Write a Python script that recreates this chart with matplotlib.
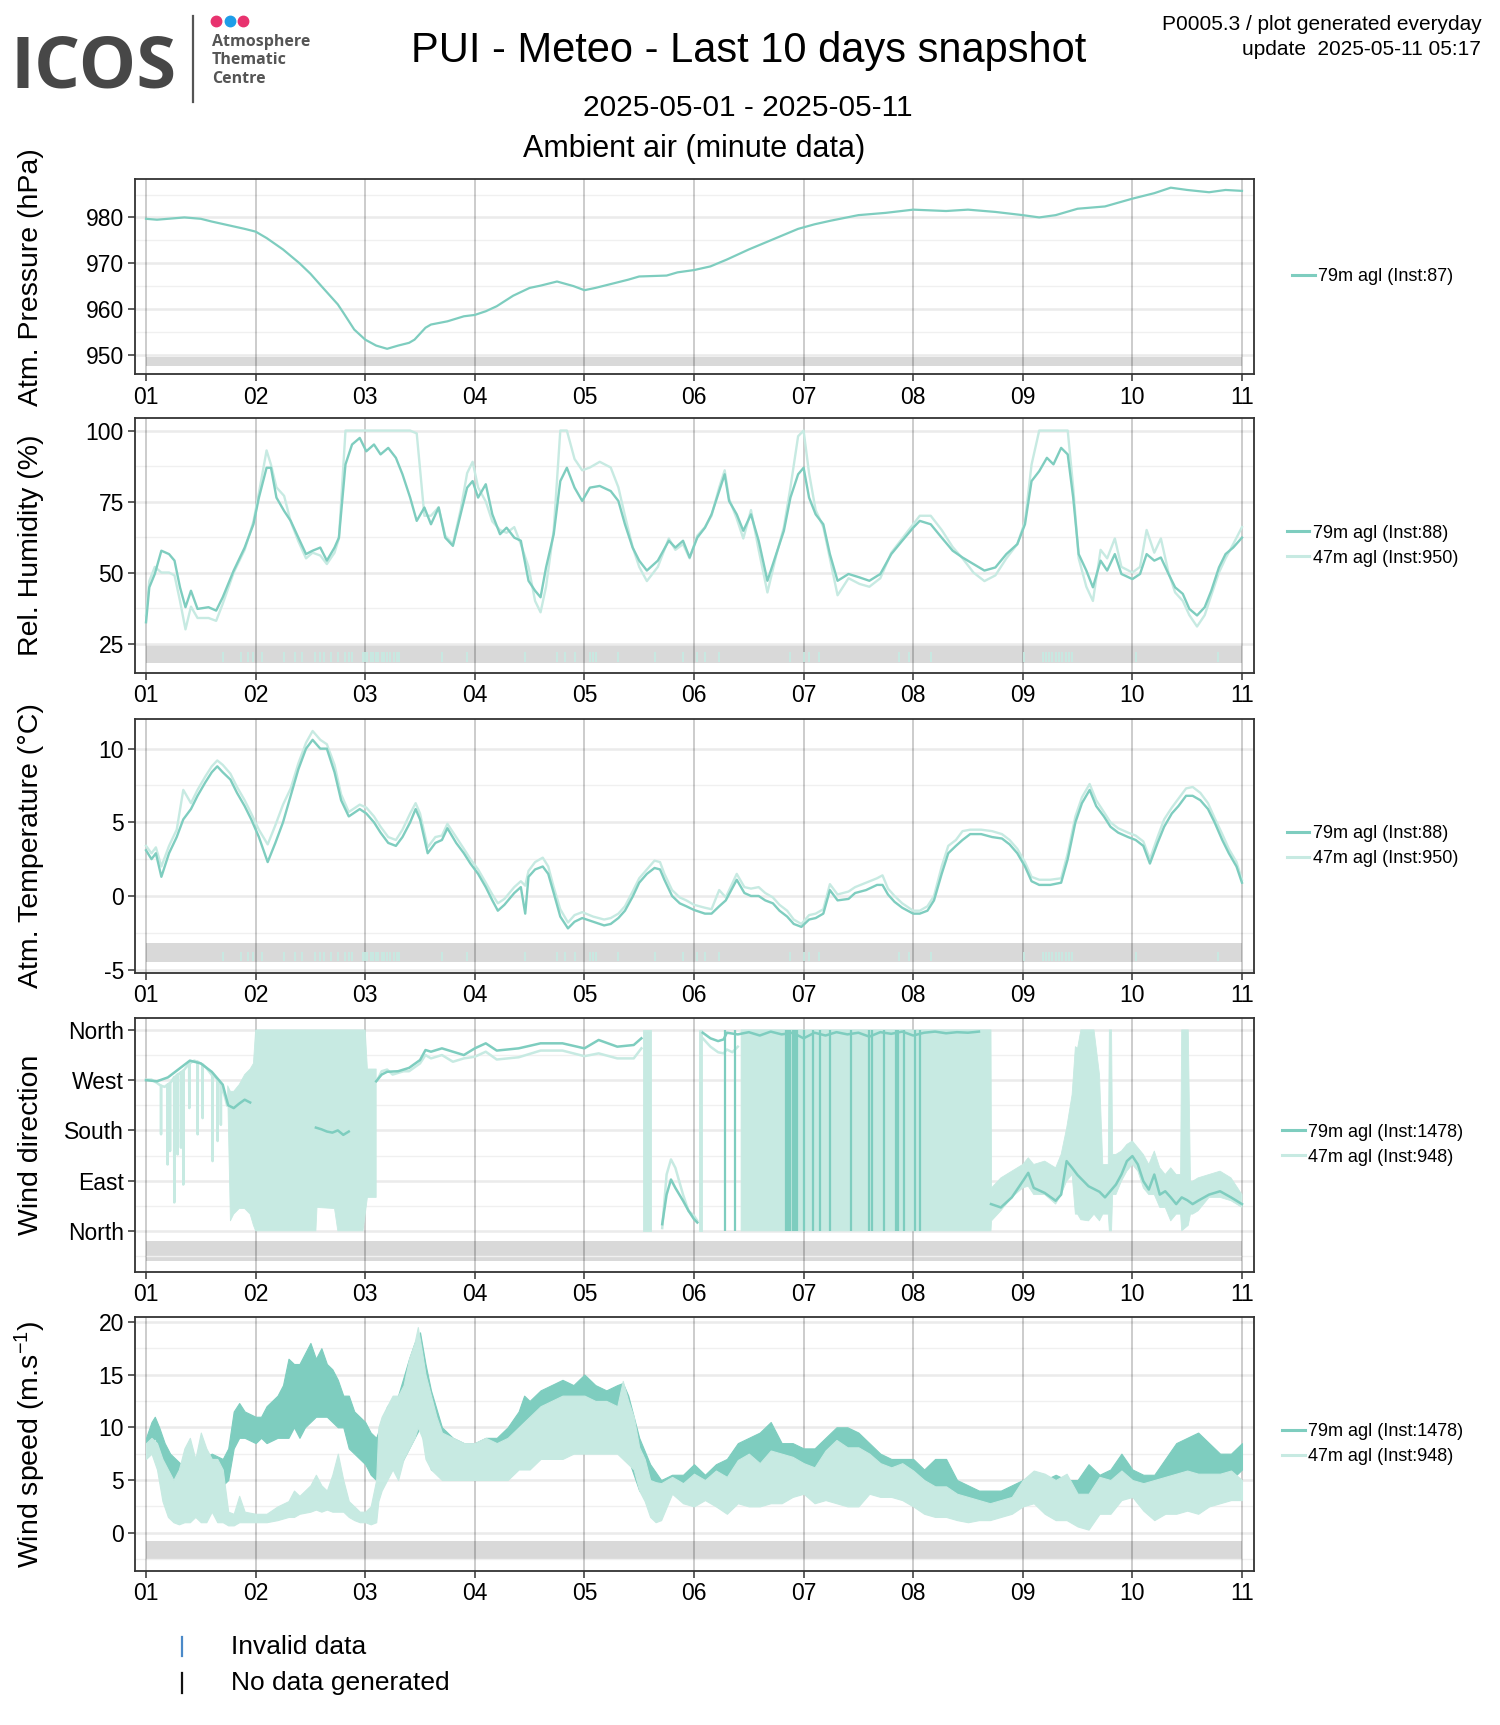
import numpy as np
import matplotlib
matplotlib.use("Agg")
import matplotlib.pyplot as plt
from matplotlib.lines import Line2D

plt.rcParams['font.family'] = ['Liberation Sans', 'DejaVu Sans']
plt.rcParams['mathtext.fontset'] = 'custom'
plt.rcParams['mathtext.rm'] = 'Liberation Sans'
plt.rcParams['mathtext.it'] = 'Liberation Sans:italic'
plt.rcParams['mathtext.default'] = 'regular'
plt.rcParams['axes.unicode_minus'] = False

DARK = '#7ecdbf'
LIGHT = '#c7eae2'
nan = np.nan

# ---------------- data ----------------
days = [1, 2, 3, 4, 5, 6, 7, 8, 9, 10, 11]
day_labels = ['01', '02', '03', '04', '05', '06', '07', '08', '09', '10', '11']

# Atmospheric pressure, 79m (hPa)
p79_t = [1.0, 1.1, 1.25, 1.35, 1.5, 1.6, 1.75, 1.9, 2.0, 2.1, 2.25, 2.4, 2.5, 2.6, 2.75, 2.8, 2.9, 3.0, 3.1, 3.2,
         3.3, 3.4, 3.45, 3.55, 3.6, 3.75, 3.9, 4.0, 4.1, 4.2, 4.35, 4.5, 4.6, 4.75, 4.9, 5.0, 5.1, 5.25, 5.4, 5.5,
         5.75, 5.85, 6.0, 6.15, 6.3, 6.5, 6.75, 6.95, 7.1, 7.25, 7.5, 7.75, 8.0, 8.3, 8.5, 8.75, 9.0, 9.15, 9.3, 9.5,
         9.75, 10.0, 10.2, 10.35, 10.5, 10.7, 10.85, 11.0]
p79_v = [979.7, 979.5, 979.8, 980.0, 979.7, 979.1, 978.3, 977.5, 976.9, 975.5, 973.0, 970.0, 967.7, 965.0, 961.0, 959.2, 955.5, 953.3, 952.0, 951.3,
         952.0, 952.6, 953.3, 955.9, 956.6, 957.3, 958.4, 958.7, 959.5, 960.6, 962.9, 964.6, 965.1, 966.0, 965.0, 964.1, 964.6, 965.5, 966.4, 967.1,
         967.3, 968.0, 968.5, 969.3, 970.8, 973.0, 975.5, 977.5, 978.5, 979.3, 980.5, 981.0, 981.7, 981.4, 981.7, 981.2, 980.5, 980.0, 980.5, 981.9,
         982.4, 984.1, 985.3, 986.5, 986.0, 985.5, 986.0, 985.8]

# Relative humidity (%)
rh_t = [1.0, 1.03, 1.08, 1.14, 1.21, 1.26, 1.31, 1.36, 1.41, 1.47,
        1.57, 1.64, 1.70, 1.80, 1.90, 1.98, 2.03, 2.10, 2.14, 2.19,
        2.26, 2.32, 2.39, 2.46, 2.52, 2.59, 2.65, 2.72, 2.76, 2.82,
        2.88, 2.95, 3.01, 3.08, 3.14, 3.21, 3.28, 3.34, 3.41, 3.47,
        3.54, 3.60, 3.67, 3.73, 3.80, 3.87, 3.93, 3.98, 4.03, 4.10,
        4.16, 4.23, 4.29, 4.36, 4.42, 4.49, 4.55, 4.60, 4.65, 4.72,
        4.78, 4.84, 4.91, 4.98, 5.05, 5.14, 5.24, 5.31, 5.37, 5.44,
        5.50, 5.57, 5.67, 5.77, 5.83, 5.90, 5.96, 6.03, 6.10, 6.16,
        6.23, 6.28, 6.32, 6.39, 6.45, 6.52, 6.59, 6.67, 6.75, 6.82,
        6.88, 6.95, 7.00, 7.05, 7.11, 7.18, 7.24, 7.31, 7.41, 7.51,
        7.60, 7.70, 7.80, 7.90, 8.00, 8.06, 8.16, 8.26, 8.36, 8.45,
        8.55, 8.65, 8.75, 8.85, 8.95, 9.02, 9.08, 9.15, 9.22, 9.28,
        9.35, 9.41, 9.46, 9.51, 9.58, 9.64, 9.71, 9.77, 9.84, 9.90,
        10.0, 10.07, 10.13, 10.20, 10.26, 10.33, 10.39, 10.46, 10.52, 10.59,
        10.66, 10.72, 10.79, 10.85, 10.92, 11.0]
rh79 = [32.5, 44.8, 49.5, 57.7, 56.5, 54.2, 44.8, 37.8, 43.6, 37.2,
        37.8, 36.6, 41.3, 50.7, 58.8, 67.0, 76.4, 86.9, 86.9, 76.4,
        71.7, 68.2, 62.3, 56.5, 57.7, 58.8, 54.2, 58.8, 62.3, 88.1,
        95.1, 97.4, 92.7, 95.1, 91.6, 93.9, 90.4, 84.6, 76.4, 68.2,
        72.9, 67.0, 72.9, 62.3, 59.4, 70.5, 79.9, 82.2, 76.4, 81.1,
        70.5, 63.5, 65.8, 62.3, 61.2, 47.1, 43.6, 41.3, 51.8, 63.5,
        82.2, 86.9, 79.9, 75.2, 79.9, 80.5, 78.7, 75.2, 67.0, 58.8,
        54.2, 50.7, 54.2, 61.2, 58.8, 61.2, 55.3, 62.3, 65.8, 70.5,
        78.7, 84.6, 75.2, 70.5, 64.7, 70.5, 61.2, 47.1, 56.5, 64.7,
        76.4, 84.6, 86.9, 76.4, 70.5, 67.0, 56.5, 47.1, 49.5, 48.3,
        47.1, 49.5, 56.5, 61.2, 65.8, 68.2, 67.0, 62.3, 57.7, 55.3,
        53.0, 50.7, 51.8, 56.5, 60.0, 67.0, 82.2, 85.7, 90.4, 88.1,
        93.9, 91.6, 76.4, 56.5, 50.7, 44.8, 54.2, 50.7, 56.5, 49.5,
        47.7, 49.5, 56.5, 54.2, 55.3, 49.5, 44.8, 42.5, 37.2, 34.9,
        37.8, 43.6, 51.8, 56.5, 58.8, 62.3]
rh47 = [35, 47, 52, 50, 50, 49, 40, 30, 38, 34,
        34, 33, 39, 50, 58, 68, 78, 93, 88, 80,
        77, 68, 61, 55, 57, 56, 53, 57, 62, 100,
        100, 100, 100, 100, 100, 100, 100, 100, 100, 99,
        70, 70, 73, 63, 60, 72, 85, 89, 80, 75,
        68, 65, 64, 66, 60, 52, 40, 36, 45, 65,
        100, 100, 90, 86, 87, 89, 87, 80, 70, 59,
        52, 47, 52, 62, 58, 60, 55, 63, 66, 70,
        80, 86, 76, 69, 62, 72, 58, 43, 56, 66,
        80, 98, 100, 85, 72, 66, 55, 42, 48, 46,
        45, 48, 57, 62, 67, 70, 70, 65, 59, 55,
        50, 47, 49, 55, 60, 68, 88, 100, 100, 100,
        100, 100, 80, 55, 45, 40, 58, 55, 62, 52,
        50, 52, 65, 57, 62, 50, 43, 40, 35, 31,
        35, 42, 50, 55, 60, 66]

# flagged minutes of the 47m instrument (shown inside the grey strip)
flag47_t = [1.70, 1.87, 1.93, 1.98, 2.06, 2.26, 2.36, 2.42, 2.54, 2.59, 2.62, 2.69, 2.75, 2.82, 2.85, 2.88,
            2.98, 3.00, 3.02, 3.05, 3.07, 3.10, 3.12, 3.15, 3.17, 3.20, 3.23, 3.26, 3.29, 3.31, 3.70, 3.93,
            4.46, 4.75, 4.82, 4.91, 5.05, 5.08, 5.11, 5.31, 5.64, 5.90, 6.03, 6.10, 6.23, 6.88, 7.00, 7.05,
            7.14, 7.87, 7.96, 8.16, 9.01, 9.18, 9.21, 9.24, 9.27, 9.30, 9.33, 9.36, 9.39, 9.42, 9.45, 10.03, 10.78]

# Air temperature (degC)
temp_t = [1.0, 1.05, 1.09, 1.14, 1.21, 1.28, 1.34, 1.41, 1.47, 1.54,
          1.60, 1.65, 1.70, 1.77, 1.83, 1.90, 1.96, 2.03, 2.11, 2.18,
          2.25, 2.32, 2.39, 2.46, 2.52, 2.59, 2.65, 2.72, 2.78, 2.85,
          2.95, 3.01, 3.08, 3.14, 3.21, 3.28, 3.34, 3.41, 3.46, 3.50,
          3.57, 3.64, 3.70, 3.75, 3.83, 3.90, 3.96, 4.03, 4.10, 4.16,
          4.21, 4.27, 4.36, 4.42, 4.46, 4.49, 4.55, 4.62, 4.67, 4.72,
          4.78, 4.85, 4.91, 4.98, 5.08, 5.18, 5.24, 5.31, 5.37, 5.44,
          5.50, 5.57, 5.64, 5.69, 5.73, 5.80, 5.87, 5.93, 6.00, 6.10,
          6.16, 6.23, 6.29, 6.39, 6.46, 6.52, 6.59, 6.65, 6.72, 6.78,
          6.85, 6.91, 6.98, 7.05, 7.11, 7.18, 7.24, 7.31, 7.41, 7.47,
          7.57, 7.67, 7.72, 7.77, 7.83, 7.90, 8.00, 8.06, 8.13, 8.19,
          8.26, 8.32, 8.39, 8.45, 8.52, 8.62, 8.72, 8.81, 8.88, 8.95,
          9.02, 9.08, 9.15, 9.25, 9.35, 9.41, 9.48, 9.54, 9.61, 9.67,
          9.74, 9.80, 9.87, 9.96, 10.03, 10.10, 10.16, 10.23, 10.29, 10.36,
          10.42, 10.49, 10.55, 10.62, 10.69, 10.75, 10.82, 10.88, 10.95, 11.0]
temp79 = [3.1, 2.5, 2.9, 1.3, 2.9, 4.0, 5.2, 5.9, 6.8, 7.7,
          8.4, 8.8, 8.4, 7.9, 7.0, 6.1, 5.2, 4.0, 2.3, 3.6,
          5.0, 6.8, 8.6, 10.0, 10.6, 10.0, 10.0, 8.4, 6.5, 5.4,
          5.9, 5.6, 5.0, 4.3, 3.6, 3.4, 4.0, 5.0, 5.9, 5.2,
          2.9, 3.6, 3.8, 4.6, 3.6, 2.9, 2.2, 1.5, 0.6, -0.3,
          -1.0, -0.6, 0.2, 0.6, -1.2, 1.3, 1.8, 2.0, 1.5, 0.2,
          -1.4, -2.2, -1.75, -1.5, -1.75, -2.0, -1.9, -1.5, -1.0, -0.05,
          0.9, 1.5, 1.9, 1.8, 1.1, 0.0, -0.5, -0.7, -0.95, -1.2,
          -1.2, -0.7, -0.3, 1.1, 0.2, 0.0, 0.0, -0.3, -0.5, -1.0,
          -1.4, -1.9, -2.1, -1.6, -1.5, -1.2, 0.4, -0.3, -0.2, 0.2,
          0.4, 0.75, 0.75, 0.1, -0.4, -0.8, -1.2, -1.2, -1.0, -0.3,
          1.5, 2.9, 3.4, 3.8, 4.2, 4.2, 4.0, 3.9, 3.5, 2.9,
          2.0, 1.0, 0.75, 0.75, 0.9, 2.5, 5.0, 6.3, 7.2, 6.1,
          5.4, 4.7, 4.3, 4.0, 3.8, 3.4, 2.2, 3.6, 4.7, 5.6,
          6.1, 6.8, 6.8, 6.5, 5.9, 5.0, 3.8, 2.9, 2.0, 0.9]
temp47 = [3.4, 2.9, 3.3, 2.0, 3.4, 4.5, 7.2, 6.3, 7.2, 8.1,
          8.8, 9.2, 8.9, 8.3, 7.4, 6.5, 5.6, 4.5, 3.5, 4.8,
          6.2, 7.3, 9.0, 10.4, 11.2, 10.6, 10.3, 8.9, 6.9, 5.7,
          6.2, 6.0, 5.4, 4.7, 4.0, 3.8, 4.5, 5.6, 6.3, 5.6,
          3.3, 4.0, 4.1, 4.9, 4.0, 3.2, 2.5, 1.8, 0.9, 0.1,
          -0.5, -0.2, 0.6, 1.0, 0.7, 1.7, 2.3, 2.6, 2.0, 0.6,
          -0.9, -1.8, -1.3, -1.1, -1.4, -1.6, -1.5, -1.2, -0.7, 0.3,
          1.2, 1.8, 2.4, 2.3, 1.5, 0.4, -0.1, -0.3, -0.6, -0.8,
          -0.9, 0.4, -0.1, 1.5, 0.6, 0.5, 0.6, 0.2, -0.1, -0.6,
          -1.0, -1.6, -1.9, -1.3, -1.2, -0.9, 0.8, 0.1, 0.3, 0.6,
          0.9, 1.2, 1.4, 0.5, 0.0, -0.5, -1.0, -1.0, -0.7, 0.0,
          2.0, 3.4, 3.8, 4.4, 4.5, 4.5, 4.4, 4.2, 3.8, 3.2,
          2.3, 1.3, 1.1, 1.1, 1.2, 2.9, 5.4, 6.7, 7.6, 6.5,
          5.7, 5.0, 4.6, 4.3, 4.1, 3.7, 2.5, 4.0, 5.2, 6.0,
          6.6, 7.3, 7.4, 7.0, 6.3, 5.3, 4.2, 3.2, 2.3, 1.1]

# Wind direction (deg, 0/360 = North); 79m line
wd79_t = [1.0, 1.1, 1.2, 1.3, 1.4, 1.5, 1.6, 1.7, 1.75, 1.8, 1.85, 1.9, 1.95, 2.0,
          2.55, 2.6, 2.65, 2.7, 2.75, 2.8, 2.85, 2.9,
          3.1, 3.15, 3.2, 3.3, 3.4, 3.5, 3.55, 3.6, 3.7, 3.8, 3.9, 4.0, 4.1, 4.2, 4.4, 4.6, 4.8, 5.0, 5.13, 5.3,
          5.45, 5.52, 5.54,
          5.71, 5.75, 5.79, 5.83, 5.9, 5.95, 6.0, 6.03, 6.06,
          6.08, 6.15, 6.22, 6.27, 6.3, 6.4, 6.5, 6.6, 6.7, 6.8, 6.9, 7.0, 7.1, 7.2, 7.3, 7.4, 7.5, 7.6, 7.7, 7.8,
          7.9, 8.0, 8.1, 8.2, 8.3, 8.4, 8.5, 8.6, 8.7,
          8.71, 8.8, 8.9, 9.0, 9.05, 9.1, 9.2, 9.3, 9.35, 9.4, 9.45, 9.5, 9.6, 9.7, 9.75, 9.85, 9.9, 9.95, 10.0,
          10.05, 10.1, 10.15, 10.2, 10.25, 10.3, 10.35, 10.4, 10.45, 10.5, 10.55, 10.6, 10.7, 10.8, 10.9, 11.0]
wd79_v = [270, 268, 275, 290, 305, 300, 285, 262, 225, 220, 228, 235, 230, nan,
          185, 182, 178, 176, 180, 172, 178, nan,
          268, 280, 285, 286, 292, 306, 324, 321, 327, 321, 315, 327, 336, 323, 327, 336, 336, 327, 342, 330,
          333, 345, nan,
          12, 65, 92, 77, 54, 36, 21, 15, nan,
          355, 345, 340, 343, 355, 352, 356, 350, 357, 352, 355, 345, 355, 350, 356, 352, 355, 348, 356, 353,
          357, 350, 355, 357, 354, 356, 355, 357, nan,
          48, 42, 60, 89, 104, 77, 68, 54, 65, 125, 113, 100, 80, 70, 60, 83, 101, 125, 134,
          119, 89, 74, 101, 65, 71, 60, 48, 60, 55, 48, 54, 65, 71, 60, 48]
# 79m wrap-around stripes (full North->North swings)
wd79_stripe_t = [6.28, 6.37, 6.84, 6.86, 6.88, 6.90, 6.92, 6.94, 7.00, 7.09, 7.15, 7.24, 7.43, 7.60, 7.62,
                 7.73, 7.84, 7.86, 7.92, 8.02, 8.06]

# 47m line
wd47_t = [1.0, 1.05, 1.1, 1.135, 1.137, 1.139, 1.17, 1.195, 1.197, 1.199, 1.217, 1.219, 1.221, 1.256, 1.258, 1.26,
          1.286, 1.288, 1.29, 1.317, 1.319, 1.321, 1.338, 1.34, 1.342, 1.393, 1.395, 1.397, 1.44, 1.469, 1.471, 1.473,
          1.514, 1.516, 1.518, 1.55, 1.605, 1.607, 1.609, 1.651, 1.653, 1.655, 1.681, 1.683, 1.685, 1.72, 1.74, 1.745,
          3.11, 3.15, 3.2, 3.25, 3.3, 3.35, 3.4, 3.5, 3.55, 3.6, 3.7, 3.8, 3.9, 4.0, 4.1, 4.2, 4.4, 4.6, 4.8, 5.0,
          5.13, 5.3, 5.45, 5.52, 5.535,
          5.71, 5.75, 5.79, 5.83, 5.9, 5.95, 6.0, 6.03, 6.045,
          6.08, 6.15, 6.22, 6.27, 6.3, 6.35, 6.4, 6.43]
wd47_v = [271, 271, 265, 260, 173, 260, 258, 262, 119, 262, 265, 143, 265, 275, 51, 275,
          280, 137, 280, 284, 149, 284, 287, 83, 287, 300, 220, 300, 305, 303, 173, 303,
          298, 202, 298, 292, 278, 125, 278, 272, 161, 272, 262, 190, 262, 240, 225, nan,
          270, 286, 289, 280, 283, 286, 286, 300, 315, 309, 315, 303, 309, 312, 321, 307, 311, 323, 323, 313,
          318, 309, 309, 327, nan,
          5, 101, 128, 113, 65, 36, 27, 18, nan,
          345, 330, 320, 318, 325, 320, 330, nan]
# 47m dense (minute-scale swinging) envelope
wd47b_t = [1.745, 1.77, 1.8, 1.85, 1.9, 1.95, 1.98, 2.0, 2.55, 2.56, 2.72, 2.75, 2.98, 3.0, 3.02, 3.1, 3.11,
           5.535, 5.61, 5.615,
           6.045, 6.07, 6.075,
           6.43, 8.71, 8.715, 8.8, 8.9, 9.0, 9.05, 9.1, 9.2, 9.3, 9.35, 9.4, 9.45, 9.48, 9.5, 9.53, 9.6, 9.65, 9.7,
           9.73, 9.78, 9.79, 9.81, 9.82, 9.85, 9.9, 9.95, 10.0, 10.05, 10.1, 10.15, 10.2, 10.25, 10.3, 10.35, 10.4,
           10.44, 10.45, 10.51, 10.53, 10.55, 10.6, 10.7, 10.8, 10.9, 11.0]
wd47b_lo = [250, 18, 30, 40, 40, 30, 10, 0, 0, 42, 40, 0, 0, 30, 60, 60, nan,
            0, 0, nan,
            0, 0, nan,
            0, 0, 18, 36, 60, 77, 80, 65, 65, 48, 65, 89, 101, 30, 30, 20, 18, 30, 18,
            30, 30, 0, 0, 65, 65, 89, 107, 119, 107, 77, 65, 65, 42, 42, 18, 30,
            30, 0, 10, 30, 30, 36, 60, 60, 54, 42]
wd47b_hi = [260, 250, 250, 262, 280, 290, 300, 360, 360, 360, 360, 360, 360, 360, 290, 290, nan,
            360, 360, nan,
            360, 360, nan,
            360, 360, 77, 95, 107, 119, 131, 119, 125, 113, 137, 184, 244, 330, 327, 360, 360, 360, 280,
            119, 119, 360, 360, 137, 137, 143, 155, 161, 149, 137, 119, 143, 113, 101, 113, 101,
            101, 360, 360, 89, 89, 95, 101, 107, 95, 65]

# Wind speed (m/s): envelope of the minute data
ws79_t = [1.0, 1.05, 1.08, 1.12, 1.17, 1.22, 1.27, 1.32, 1.4, 1.5,
          1.6, 1.7, 1.75, 1.8, 1.85, 1.9, 2.0, 2.05, 2.1, 2.2,
          2.25, 2.3, 2.35, 2.4, 2.45, 2.5, 2.55, 2.6, 2.65, 2.7,
          2.75, 2.8, 2.85, 2.9, 2.95, 3.0, 3.05, 3.1, 3.15, 3.2,
          3.3, 3.4, 3.45, 3.5, 3.55, 3.6, 3.7, 3.8, 3.9, 4.0,
          4.1, 4.2, 4.3, 4.4, 4.45, 4.5, 4.6, 4.7, 4.8, 4.9,
          5.0, 5.1, 5.2, 5.3, 5.35, 5.4, 5.5, 5.6, 5.7, 5.8,
          5.9, 6.0, 6.1, 6.2, 6.3, 6.4, 6.5, 6.6, 6.7, 6.8,
          6.9, 7.0, 7.1, 7.2, 7.3, 7.4, 7.5, 7.6, 7.7, 7.8,
          7.9, 8.0, 8.1, 8.2, 8.3, 8.4, 8.5, 8.6, 8.7, 8.8,
          8.9, 9.0, 9.1, 9.2, 9.3, 9.4, 9.5, 9.6, 9.7, 9.8,
          9.9, 10.0, 10.1, 10.2, 10.3, 10.4, 10.5, 10.6, 10.7, 10.8,
          10.9, 11.0]
ws79_lo = [7.8, 8.5, 9.0, 8.0, 6.0, 4.5, 3.5, 3.5, 3.0, 3.0,
           4.0, 4.5, 5.0, 8.0, 9.0, 9.0, 8.5, 9.0, 8.5, 9.0,
           9.0, 9.0, 10.0, 9.0, 10.0, 10.5, 11.0, 11.0, 11.0, 10.5,
           10.0, 10.0, 8.0, 7.5, 7.0, 6.5, 5.5, 5.0, 5.0, 6.0,
           6.0, 8.0, 9.0, 10.0, 8.0, 6.0, 5.5, 5.5, 5.5, 5.5,
           5.5, 5.5, 6.0, 7.0, 7.5, 8.0, 8.0, 8.0, 8.5, 8.5,
           9.0, 9.0, 8.5, 8.5, 8.0, 7.0, 4.0, 3.0, 3.0, 4.0,
           4.0, 4.0, 4.0, 4.5, 5.0, 5.5, 6.0, 5.5, 6.5, 6.0,
           5.5, 5.5, 5.5, 6.0, 6.0, 6.0, 6.0, 5.5, 5.5, 5.5,
           5.0, 5.0, 4.0, 4.0, 3.5, 3.0, 2.5, 2.5, 2.5, 2.5,
           3.0, 4.0, 4.0, 3.0, 3.0, 2.0, 2.0, 3.5, 3.5, 4.0,
           4.5, 4.0, 3.5, 3.5, 4.5, 5.5, 5.5, 5.5, 5.5, 5.5,
           5.0, 6.0]
ws79_hi = [9.0, 10.5, 11.0, 10.0, 8.5, 7.5, 7.0, 6.5, 6.0, 7.0,
           7.5, 7.0, 8.0, 11.5, 12.3, 11.5, 11.0, 11.0, 12.0, 13.0,
           14.0, 16.5, 16.0, 16.0, 17.0, 18.0, 16.5, 17.5, 16.0, 15.5,
           14.5, 13.0, 13.0, 11.5, 11.0, 10.5, 9.5, 9.0, 10.5, 12.0,
           13.0, 16.5, 18.0, 19.0, 16.0, 13.5, 10.0, 9.0, 8.5, 8.5,
           9.0, 9.0, 10.0, 11.5, 13.0, 12.5, 13.5, 14.0, 14.5, 14.0,
           15.0, 14.0, 13.5, 14.0, 14.2, 13.0, 9.0, 6.5, 5.0, 5.5,
           5.5, 6.5, 5.5, 6.5, 7.0, 8.5, 9.0, 9.5, 10.5, 8.5,
           8.5, 8.0, 8.0, 9.0, 10.0, 10.0, 9.5, 8.5, 7.5, 7.0,
           7.0, 7.0, 6.0, 7.0, 7.0, 5.0, 4.5, 4.0, 4.0, 4.0,
           4.5, 5.0, 5.5, 5.0, 5.5, 5.0, 5.0, 6.5, 5.5, 6.0,
           7.5, 6.0, 5.5, 5.5, 7.0, 8.5, 9.0, 9.5, 8.5, 7.5,
           7.5, 8.5]

ws47_t = [1.0, 1.05, 1.1, 1.15, 1.2, 1.25, 1.3, 1.35, 1.4, 1.45,
          1.5, 1.55, 1.6, 1.65, 1.7, 1.75, 1.8, 1.85, 1.9, 2.0,
          2.1, 2.2, 2.3, 2.35, 2.4, 2.5, 2.55, 2.6, 2.65, 2.7,
          2.75, 2.8, 2.85, 2.9, 2.95, 3.0, 3.05, 3.1, 3.12, 3.15,
          3.2, 3.25, 3.3, 3.35, 3.4, 3.45, 3.48, 3.52, 3.55, 3.6,
          3.65, 3.7, 3.8, 3.9, 4.0, 4.1, 4.2, 4.3, 4.4, 4.5,
          4.6, 4.7, 4.8, 4.9, 5.0, 5.1, 5.2, 5.3, 5.35, 5.4,
          5.45, 5.5, 5.55, 5.6, 5.65,
          5.7, 5.8, 5.9, 6.0, 6.1, 6.2, 6.3, 6.4, 6.5, 6.6,
          6.7, 6.8, 6.9, 7.0, 7.1, 7.2, 7.3, 7.4, 7.5, 7.6,
          7.7, 7.8, 7.9, 8.0, 8.1, 8.2, 8.3, 8.4, 8.5, 8.6,
          8.7, 8.8, 8.9, 9.0, 9.1, 9.2, 9.3, 9.4, 9.5, 9.6,
          9.7, 9.8, 9.9, 10.0, 10.1, 10.2, 10.3, 10.4, 10.5, 10.6,
          10.7, 10.8, 10.9, 11.0]
ws47_lo = [7.0, 7.5, 6.0, 3.0, 1.5, 1.0, 0.8, 1.0, 1.0, 1.5,
           1.0, 1.0, 2.0, 1.0, 1.0, 0.7, 0.7, 1.0, 1.0, 1.0,
           1.0, 1.2, 1.5, 1.5, 1.8, 2.0, 2.2, 2.0, 2.2, 2.0,
           2.0, 2.0, 1.5, 1.2, 1.0, 1.0, 0.8, 1.0, 3.0, 4.0,
           5.0, 6.0, 5.0, 7.0, 8.0, 9.0, 10.0, 9.0, 7.0, 6.0,
           5.5, 5.0, 5.0, 5.0, 5.0, 5.0, 5.0, 5.0, 6.0, 6.0,
           7.0, 7.0, 7.0, 7.5, 7.5, 7.5, 7.5, 7.5, 7.0, 6.5,
           6.0, 4.0, 3.0, 1.5, 1.0,
           1.2, 3.7, 2.8, 2.5, 3.1, 2.5, 1.8, 2.8, 2.5, 2.5,
           2.8, 2.8, 3.4, 3.7, 2.8, 3.1, 2.8, 2.5, 2.5, 3.7,
           3.4, 3.4, 3.1, 2.5, 1.8, 1.5, 1.5, 1.2, 1.0, 1.2,
           1.2, 1.5, 1.8, 2.5, 2.8, 1.8, 1.2, 1.2, 0.6, 0.3,
           1.8, 1.8, 3.1, 3.4, 2.1, 1.2, 1.8, 1.8, 2.1, 1.8,
           2.5, 2.8, 3.1, 3.1]
ws47_hi = [8.5, 9.0, 8.5, 7.0, 6.0, 5.0, 6.0, 8.0, 9.0, 7.0,
           9.5, 8.0, 7.0, 7.0, 6.0, 2.0, 1.8, 3.5, 2.0, 1.8,
           1.8, 2.5, 3.0, 4.0, 3.5, 4.5, 5.5, 4.5, 4.0, 5.5,
           7.5, 5.0, 3.0, 2.5, 2.0, 2.0, 2.5, 5.0, 10.0, 11.0,
           12.0, 13.0, 13.0, 14.0, 16.5, 18.0, 19.5, 17.0, 15.0, 13.0,
           11.0, 9.5, 9.0, 8.5, 8.5, 9.0, 8.5, 9.0, 10.0, 11.0,
           12.0, 12.5, 13.0, 13.0, 13.0, 12.5, 12.5, 12.0, 14.4, 12.5,
           11.0, 8.1, 7.0, 5.0, 4.8,
           4.7, 5.3, 4.7, 5.6, 5.0, 5.9, 5.3, 6.9, 7.5, 6.6,
           7.8, 7.5, 7.2, 6.6, 6.2, 7.8, 8.8, 8.1, 8.1, 7.5,
           6.6, 6.2, 6.6, 5.9, 5.0, 4.4, 4.4, 3.7, 3.4, 3.1,
           2.8, 3.1, 3.4, 5.0, 5.9, 5.6, 5.0, 5.6, 3.7, 3.7,
           5.3, 5.0, 5.9, 5.0, 4.7, 5.0, 5.3, 5.6, 5.9, 5.6,
           5.6, 5.6, 5.9, 5.0]

for a, b in [(p79_t, p79_v), (rh_t, rh79), (rh_t, rh47), (temp_t, temp79), (temp_t, temp47),
             (wd79_t, wd79_v), (wd47_t, wd47_v), (wd47b_t, wd47b_lo), (wd47b_t, wd47b_hi),
             (ws79_t, ws79_lo), (ws79_t, ws79_hi), (ws47_t, ws47_lo), (ws47_t, ws47_hi)]:
    assert len(a) == len(b), (len(a), len(b))

# ---------------- layout helpers ----------------
fig = plt.figure(figsize=(15, 17.25), dpi=100)
RW, RHt = 1366.0, 1571.0


def fx(x):
    return x / RW


def fy(y):
    return 1.0 - y / RHt


PL, PR = 123, 1142
panel_px = [(163, 341), (381, 613), (655, 886), (927, 1158), (1199, 1431)]
cfg = [
    dict(ylim=(945.7, 988.4), ticks=[950, 960, 970, 980], labels=['950', '960', '970', '980'],
         minor=[945, 955, 965, 975, 985], band=(947.6, 949.5), ylabel='Atm. Pressure (hPa)',
         legend=[('79m agl (Inst:87)', DARK)]),
    dict(ylim=(14.6, 104.3), ticks=[25, 50, 75, 100], labels=['25', '50', '75', '100'],
         minor=[37.5, 62.5, 87.5], band=(18.3, 25.0), flag=(18.6, 21.9), ylabel='Rel. Humidity (%)',
         legend=[('79m agl (Inst:88)', DARK), ('47m agl (Inst:950)', LIGHT)]),
    dict(ylim=(-5.22, 12.0), ticks=[-5, 0, 5, 10], labels=['-5', '0', '5', '10'],
         minor=[-2.5, 2.5, 7.5], band=(-4.48, -3.18), flag=(-4.42, -3.8), ylabel='Atm. Temperature (°C)',
         legend=[('79m agl (Inst:88)', DARK), ('47m agl (Inst:950)', LIGHT)]),
    dict(ylim=(-72.8, 381.6), ticks=[0, 90, 180, 270, 360], labels=['North', 'East', 'South', 'West', 'North'],
         minor=[-45, 45, 135, 225, 315], band=(-54.7, -19.0), ylabel='Wind direction',
         legend=[('79m agl (Inst:1478)', DARK), ('47m agl (Inst:948)', LIGHT)]),
    dict(ylim=(-3.65, 20.5), ticks=[0, 5, 10, 15, 20], labels=['0', '5', '10', '15', '20'],
         minor=[-2.5, 2.5, 7.5, 12.5, 17.5], band=(-2.61, -0.79), ylabel='Wind speed (m.s$^{-1}$)',
         legend=[('79m agl (Inst:1478)', DARK), ('47m agl (Inst:948)', LIGHT)]),
]

axes = []
for (top, bot), c in zip(panel_px, cfg):
    ax = fig.add_axes([fx(PL), fy(bot), fx(PR) - fx(PL), (bot - top) / RHt])
    ax.set_xlim(0.9, 11.11)
    ax.set_ylim(*c['ylim'])
    ax.set_xticks(days)
    ax.set_xticklabels(day_labels)
    ax.set_yticks(c['ticks'])
    ax.set_yticklabels(c['labels'])
    ax.tick_params(axis='both', which='major', length=5, width=1.1, color='#333333',
                   labelsize=16.5, labelcolor='black', pad=3)
    for s in ax.spines.values():
        s.set_color('#333333')
        s.set_linewidth(1.3)
    # grey status strip
    ax.fill_between([days[0], days[-1]], c['band'][0], c['band'][1], color='#d9d9d9', lw=0, zorder=0.3)
    for yv in c['minor']:
        ax.axhline(yv, color='#f0f0f0', lw=1.0, zorder=0.4)
    for yv in c['ticks']:
        ax.axhline(yv, color='#ebebeb', lw=1.8, zorder=0.4)
    for d in days:
        ax.axvline(d, color='black', alpha=0.2, lw=1.4, zorder=0.6)
    if 'flag' in c:
        ax.vlines(flag47_t, c['flag'][0], c['flag'][1], color=LIGHT, lw=1.3, zorder=0.7)
    fig.text(fx(28), fy((top + bot) / 2), c['ylabel'], rotation=90, ha='center', va='center', fontsize=20.5)
    handles = [Line2D([], [], color=col, lw=2.2) for _, col in c['legend']]
    ax.legend(handles, [l for l, _ in c['legend']], loc='center',
              bbox_to_anchor=(fx(1250), fy((top + bot) / 2)), bbox_transform=fig.transFigure,
              frameon=False, fontsize=13, handlelength=1.25, handletextpad=0.2, labelspacing=0.45,
              borderpad=0, borderaxespad=0)
    axes.append(ax)

LW = 1.7
# Pressure
axes[0].plot(p79_t, p79_v, color=DARK, lw=1.6, zorder=2)
# Humidity
axes[1].plot(rh_t, rh47, color=LIGHT, lw=LW, zorder=2)
axes[1].plot(rh_t, rh79, color=DARK, lw=LW, zorder=3)
# Temperature
axes[2].plot(temp_t, temp47, color=LIGHT, lw=LW, zorder=2)
axes[2].plot(temp_t, temp79, color=DARK, lw=LW, zorder=3)
# Wind direction
ax = axes[3]
ax.fill_between(wd47b_t, wd47b_lo, wd47b_hi, color=LIGHT, lw=0.6, edgecolor=LIGHT, zorder=2)
ax.plot(wd47_t, wd47_v, color=LIGHT, lw=1.8, zorder=2)
ax.plot(wd79_t, wd79_v, color=DARK, lw=1.8, zorder=3)
ax.vlines(wd79_stripe_t, cfg[3]['ticks'][0], cfg[3]['ticks'][-1], color=DARK, lw=1.6, zorder=3)
# Wind speed
ax = axes[4]
ax.fill_between(ws79_t, ws79_lo, ws79_hi, color=DARK, lw=0.8, edgecolor=DARK, zorder=2)
ax.fill_between(ws47_t, ws47_lo, ws47_hi, color=LIGHT, lw=0.8, edgecolor=LIGHT, zorder=3)

# ---------------- titles ----------------
fig.text(fx(682), fy(46), 'PUI - Meteo - Last 10 days snapshot', ha='center', va='center', fontsize=30)
fig.text(fx(681), fy(98), '2025-05-01 - 2025-05-11', ha='center', va='center', fontsize=21.5)
fig.text(fx((PL + PR) / 2), fy(136), 'Ambient air (minute data)', ha='center', va='center', fontsize=22)
fig.text(fx(1349), fy(22), 'P0005.3 / plot generated everyday', ha='right', va='center', fontsize=15)
fig.text(fx(1349), fy(45), 'update  2025-05-11 05:17', ha='right', va='center', fontsize=15)

# ---------------- logo ----------------
fig.text(fx(10), fy(80), 'ICOS', family=['Open Sans', 'DejaVu Sans'], fontweight='bold',
         fontsize=52, color='#474747', ha='left', va='baseline')
fig.add_artist(Line2D([fx(176), fx(176)], [fy(15), fy(93)], transform=fig.transFigure, color='#555555', lw=1.6))
for xd, col in zip([197, 209, 221], ['#e8336f', '#1e9de8', '#e8336f']):
    fig.add_artist(Line2D([fx(xd)], [fy(19)], transform=fig.transFigure, marker='o', markersize=7.5,
                          color=col, lw=0))
for yy, txt in zip([38, 55, 72], ['Atmosphere', 'Thematic', 'Centre']):
    fig.text(fx(193), fy(yy), txt, family=['Open Sans', 'DejaVu Sans'], fontweight='bold', fontsize=11.5,
             color='#555555', ha='left', va='center')

# ---------------- bottom key ----------------
fig.add_artist(Line2D([fx(166), fx(166)], [fy(1491), fy(1508)], transform=fig.transFigure,
                      color='#4a89c8', lw=1.6))
fig.add_artist(Line2D([fx(166), fx(166)], [fy(1524), fy(1542)], transform=fig.transFigure,
                      color='#111111', lw=1.6))
fig.text(fx(210), fy(1500), 'Invalid data', fontsize=19, ha='left', va='center')
fig.text(fx(210), fy(1533), 'No data generated', fontsize=19, ha='left', va='center')

fig.savefig('out.png', dpi=100, facecolor='white')
